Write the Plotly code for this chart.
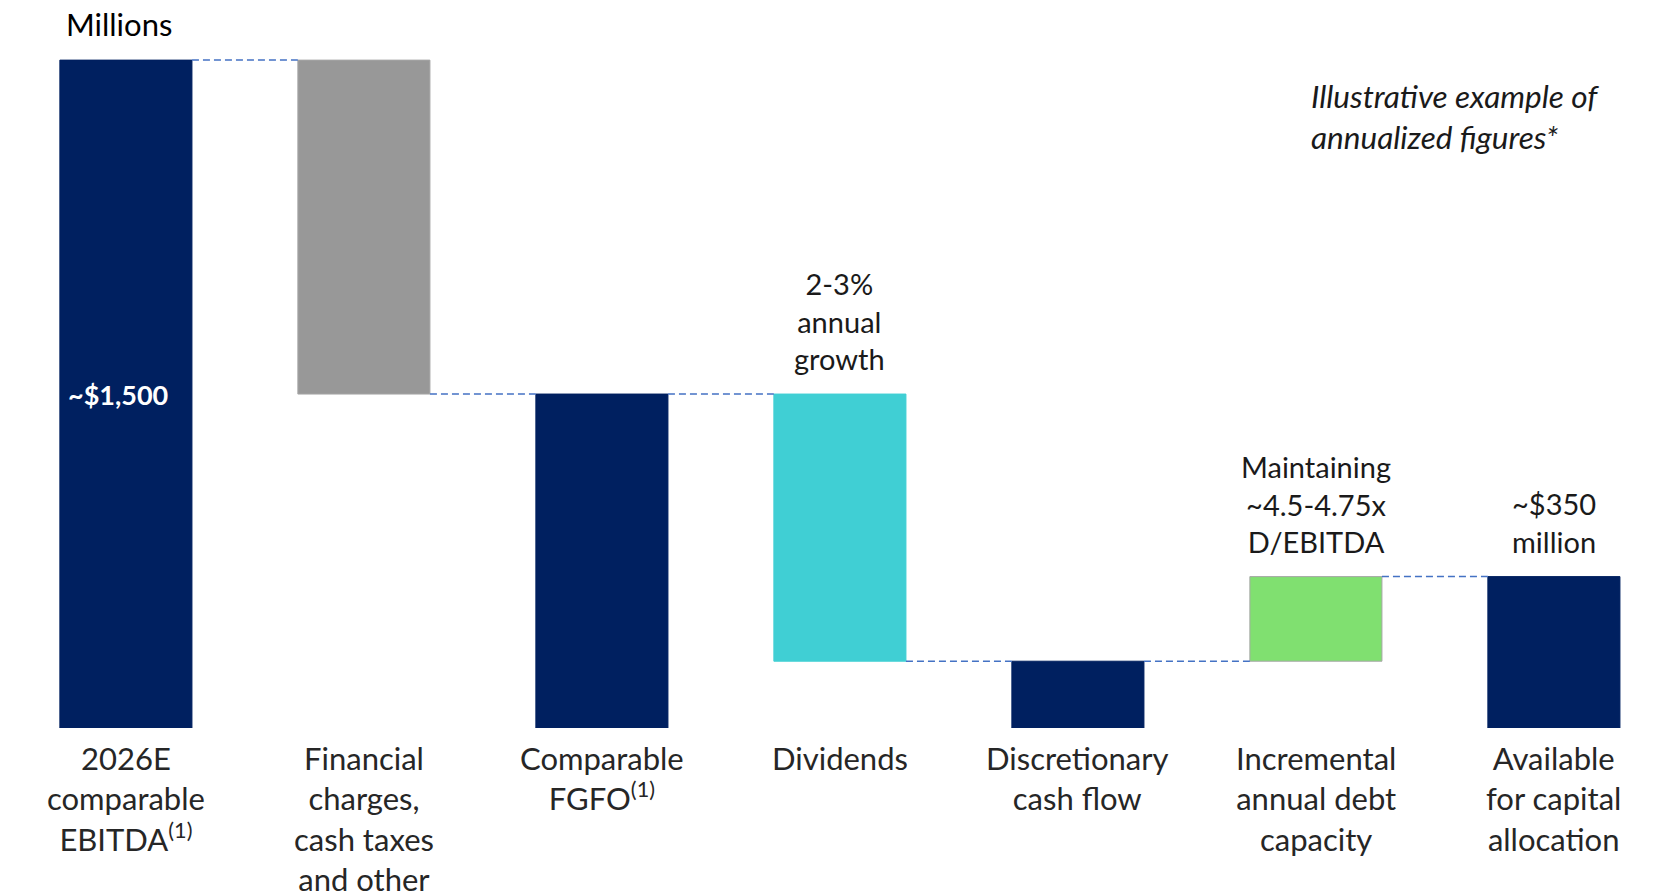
import plotly.graph_objects as go

categories = [
    "2026E<br>comparable<br>EBITDA<sup>(1)</sup>",
    "Financial<br>charges,<br>cash taxes<br>and other",
    "Comparable<br>FGFO<sup>(1)</sup>",
    "Dividends",
    "Discretionary<br>cash flow",
    "Incremental<br>annual debt<br>capacity",
    "Available<br>for capital<br>allocation",
]
measures = ["absolute", "relative", "total", "relative", "total", "relative", "total"]
deltas = [1500, -750, 0, -600, 0, 190, 0]
bar_colors = ["#002060", "#989898", "#002060", "#40CFD4", "#002060", "#80E070", "#002060"]
edge_colors = ["#002060", "#A6A6A6", "#002060", "#40CFD4", "#002060", "#A6A6A6", "#002060"]
notes = {
    3: "2-3%<br>annual<br>growth",
    5: "Maintaining<br>~4.5-4.75x<br>D/EBITDA",
    6: "~$350<br>million",
}
first_label = "~$1,500"

# compute waterfall bases/heights
bases, heights, levels, running = [], [], [], 0
for m, d in zip(measures, deltas):
    if m == "absolute":
        running = d
        bases.append(0); heights.append(d)
    elif m == "total":
        bases.append(0); heights.append(running)
    else:
        new = running + d
        bases.append(min(running, new)); heights.append(abs(d))
        running = new
    levels.append(running)
tops = [b + h for b, h in zip(bases, heights)]

xs = list(range(len(categories)))
W = 0.555

fig = go.Figure()
fig.add_trace(go.Bar(
    x=xs, y=heights, base=bases, width=W,
    marker=dict(color=bar_colors, line=dict(color=edge_colors, width=1)),
    hoverinfo="skip", showlegend=False,
))

# connectors
for i in range(len(xs) - 1):
    lvl = levels[i]
    fig.add_shape(type="line", x0=xs[i] + W / 2, x1=xs[i + 1] - W / 2, y0=lvl, y1=lvl,
                  line=dict(color="#4472C4", width=1.5, dash="7px,4px"), layer="above")

# axis line
fig.add_shape(type="line", xref="paper", yref="y", x0=0.0045, x1=1, y0=-2, y1=-2,
              line=dict(color="#C8C8C8", width=2))

font = "Lato, 'Open Sans', sans-serif"
for i, c in enumerate(categories):
    fig.add_annotation(x=xs[i], xref="x", y=-0.012, yref="paper", yanchor="top",
                       text=c, showarrow=False, font=dict(family=font, size=31, color="#262626"))

for i, t in notes.items():
    fig.add_annotation(x=xs[i], y=tops[i], yshift=16, yanchor="bottom", text=t,
                       showarrow=False, font=dict(family=font, size=29, color="#1a1a1a"))

fig.add_annotation(x=xs[0], y=levels[0] / 2, xshift=-8, text="<b>" + first_label + "</b>",
                   showarrow=False, font=dict(family=font, size=27, color="white"))

fig.add_annotation(x=0.0717, xref="paper", xanchor="center", y=1.0, yref="paper",
                   yanchor="top", yshift=-3,
                   text="Millions", showarrow=False,
                   font=dict(family=font, size=31, color="black"))
fig.add_annotation(x=0.786, xref="paper", y=0.897, yref="paper", xanchor="left",
                   text="<i>Illustrative example of<br>annualized figures*</i>", align="left",
                   showarrow=False, font=dict(family=font, size=31.5, color="#1a1a1a"))

fig.update_layout(
    width=1666, height=896,
    margin=dict(l=0, r=0, t=0, b=168),
    plot_bgcolor="white", paper_bgcolor="white",
    xaxis=dict(range=[-0.529, 6.471], visible=False, showgrid=False, zeroline=False),
    yaxis=dict(range=[0, 1635], visible=False, showgrid=False, zeroline=False),
)

fig.write_html("out.html", config={"displayModeBar": False},
               post_script="document.body.style.margin='0';document.body.style.overflow='hidden';")
